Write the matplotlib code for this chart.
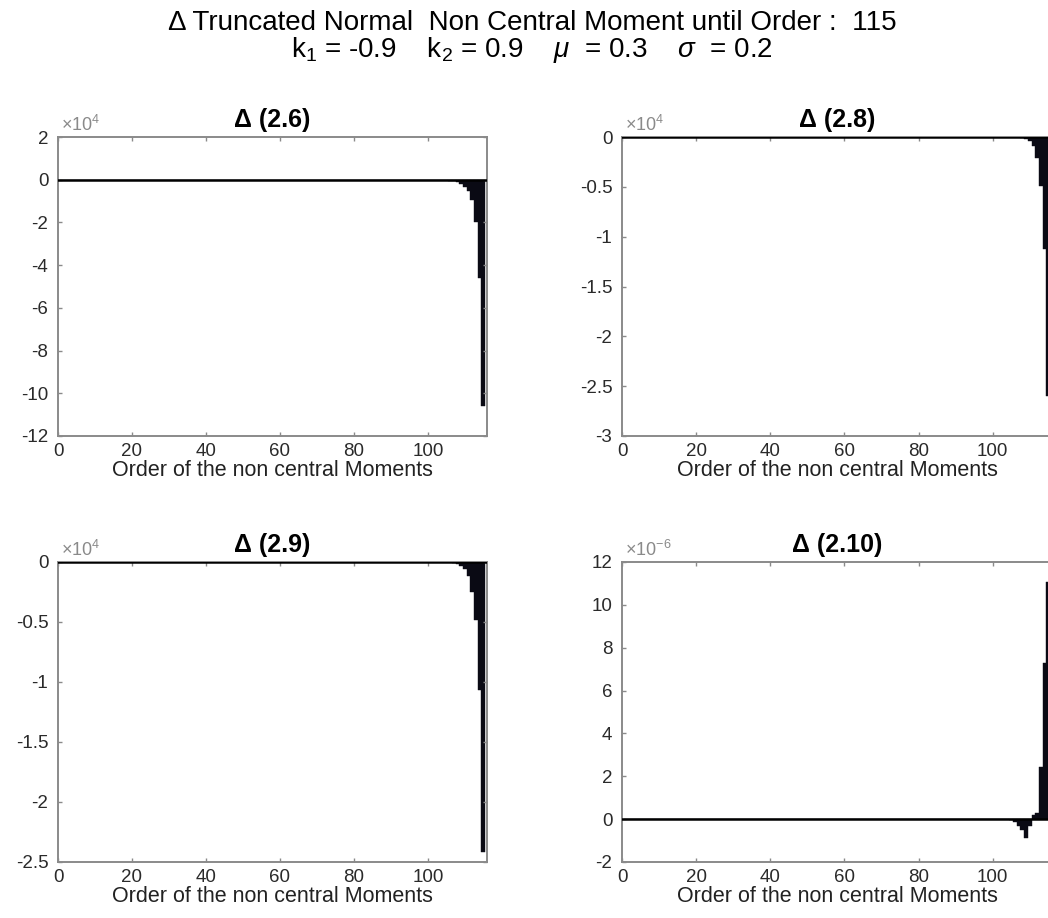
import numpy as np
import matplotlib
matplotlib.use("Agg")
import matplotlib.pyplot as plt

plt.rcParams['font.family'] = ['Liberation Sans', 'DejaVu Sans']
plt.rcParams['axes.unicode_minus'] = False
plt.rcParams['mathtext.fontset'] = 'custom'
plt.rcParams['mathtext.rm'] = 'Liberation Sans'
plt.rcParams['mathtext.it'] = 'Liberation Sans:italic'

# moment orders 1..115; only the last bars are visibly non zero
orders = np.arange(1, 116)
n_zero = 100

# Delta (2.6), units of 1e4, orders 101..115
tail_26 = [0, 0, 0, -0.01, -0.02, -0.04, -0.07, -0.12, -0.2, -0.33, -0.55, -0.95, -2.0, -4.6, -10.6]
# Delta (2.8), units of 1e4
tail_28 = [0, 0, 0, 0, 0, 0, 0, -0.007, -0.017, -0.04, -0.09, -0.21, -0.49, -1.12, -2.6]
# Delta (2.9), units of 1e4
tail_29 = [0, 0, 0, 0, 0, 0, -0.007, -0.015, -0.03, -0.06, -0.12, -0.25, -0.48, -1.07, -2.42]
# Delta (2.10), units of 1e-6
tail_210 = [0, 0, 0, 0, -0.05, -0.15, -0.3, -0.5, -0.9, -0.3, 0.2, 0.3, 2.43, 7.3, 11.05]

panels = [
    ("\u0394 (2.6)", tail_26, 4, (-12, 2), [2, 0, -2, -4, -6, -8, -10, -12], ['2', '0', '-2', '-4', '-6', '-8', '-10', '-12']),
    ("\u0394 (2.8)", tail_28, 4, (-3, 0), [0, -0.5, -1, -1.5, -2, -2.5, -3], ['0', '-0.5', '-1', '-1.5', '-2', '-2.5', '-3']),
    ("\u0394 (2.9)", tail_29, 4, (-2.5, 0), [0, -0.5, -1, -1.5, -2, -2.5], ['0', '-0.5', '-1', '-1.5', '-2', '-2.5']),
    ("\u0394 (2.10)", tail_210, -6, (-2, 12), [12, 10, 8, 6, 4, 2, 0, -2], ['12', '10', '8', '6', '4', '2', '0', '-2']),
]

W, H = 1048, 918
fig = plt.figure(figsize=(W / 100, H / 100), dpi=100)

# axes boxes in pixels: left, right, top, bottom
boxes = [(58, 487, 137, 436), (622, 1052, 137, 436),
         (58, 487, 562, 862), (622, 1052, 562, 862)]

bar_color = '#0a0a14'
spine_color = '#8a8a8a'
tick_color = '#2a2a2a'

for (title, tail, expo, ylim, yt, ytl), (l, r, t, b) in zip(panels, boxes):
    ax = fig.add_axes([l / W, 1 - b / H, (r - l) / W, (b - t) / H])
    values = np.concatenate([np.zeros(n_zero), np.array(tail)])
    ax.bar(orders, values, width=1.0, color=bar_color, edgecolor=bar_color, linewidth=0.3)
    ax.axhline(0, color='black', lw=1.8, zorder=3)
    ax.set_xlim(0, 116)
    ax.set_ylim(*ylim)
    ax.set_xticks([0, 20, 40, 60, 80, 100])
    ax.set_yticks(yt)
    ax.set_yticklabels(ytl)
    ax.tick_params(direction='in', length=3, width=1, colors=spine_color,
                   labelcolor=tick_color, labelsize=13.5, top=True, right=True)
    ax.tick_params(axis='x', pad=5)
    ax.tick_params(axis='y', pad=7)
    for s in ax.spines.values():
        s.set_color(spine_color)
        s.set_linewidth(1.4)
    ax.set_xlabel('Order of the non central Moments', fontsize=15.5, color='#222222', labelpad=0)
    ax.set_title(title, fontsize=18, fontweight='bold', pad=7)
    ax.text(0.006, 1.008, r'$\times10^{%d}$' % expo, transform=ax.transAxes,
            fontsize=13, color='#8a8a8a', ha='left', va='bottom')

fig.text(0.508, 0.975, '\u0394 Truncated Normal  Non Central Moment until Order :  115',
         ha='center', va='center', fontsize=20)
fig.text(0.508, 0.945, r'k$_1$ = -0.9    k$_2$ = 0.9    $\mathit{\mu}$  = 0.3    $\mathit{\sigma}$  = 0.2',
         ha='center', va='center', fontsize=20)

fig.savefig('out.png', dpi=100, facecolor='white')
